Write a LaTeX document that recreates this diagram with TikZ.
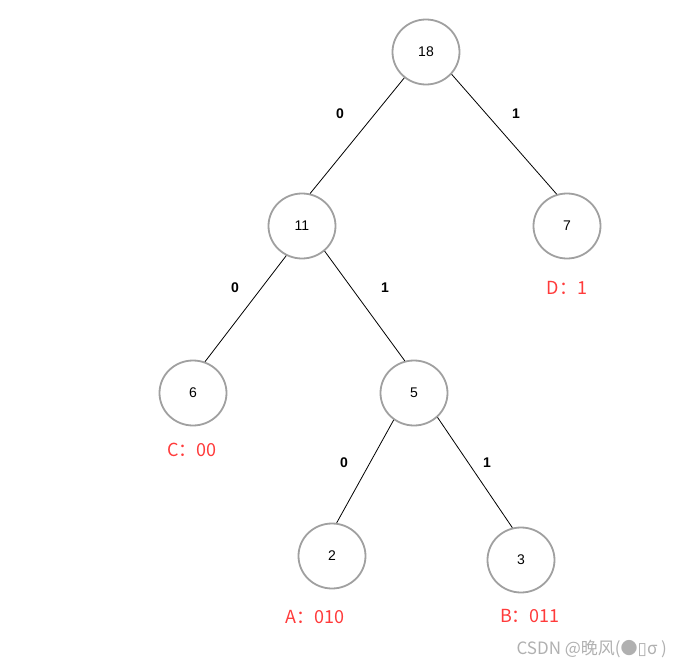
\documentclass[tikz,border=0pt]{standalone}
\usepackage{fontspec}
\setmainfont{Liberation Sans}
\newfontfamily\cjk{Noto Sans CJK SC}
\newfontfamily\djv{DejaVu Sans}
\usetikzlibrary{shapes.geometric}
\definecolor{ringgray}{HTML}{A0A0A0}
\definecolor{codered}{HTML}{FF3B3B}
\definecolor{wmgray}{HTML}{B0B0B0}
\tikzset{
  tnode/.style={ellipse, draw=ringgray, line width=1.8pt, minimum width=67pt, minimum height=65pt, inner sep=0pt, font=\fontsize{14}{14}\selectfont},
  edge/.style={draw=black, line width=0.8pt},
  bit/.style={font=\fontsize{14}{14}\selectfont\bfseries},
  code/.style={text=codered, font=\cjk\fontsize{18}{18}\selectfont},
}
\begin{document}
\begin{tikzpicture}[x=1pt,y=-1pt]
\useasboundingbox (0,0) rectangle (697,669);
\node[tnode] (n18) at (426,52) {18};
\node[tnode] (n11) at (302,226) {11};
\node[tnode] (n7) at (567,226) {7};
\node[tnode] (n6) at (193,393) {6};
\node[tnode] (n5) at (414,393) {5};
\node[tnode] (n2) at (332,556) {2};
\node[tnode] (n3) at (521,560) {3};
\draw[edge] (n18.230) -- (n11.76);
\draw[edge] (n18.319) -- (n7.108);
\draw[edge] (n11.242) -- (n6.69);
\draw[edge] (n11.312) -- (n5.106);
\draw[edge] (n5.233) -- (n2.82);
\draw[edge] (n5.314) -- (n3.105);
\node[bit] (b1) at (340,114) {0};
\node[bit] (b2) at (516,114) {1};
\node[bit] (b3) at (235,288) {0};
\node[bit] (b4) at (385,288) {1};
\node[bit] (b5) at (344,463) {0};
\node[bit] (b6) at (487,463) {1};
\node[code] (cD) at (567,288) {D：1};
\node[code] (cC) at (192,450) {C：00};
\node[code] (cA) at (315,617) {A：010};
\node[code] (cB) at (530,616) {B：011};
\node[text=wmgray, font=\cjk\fontsize{17}{17}\selectfont, anchor=west] (wm) at (513,649) {CSDN @晚风(●{\djv ▯}σ )};
\end{tikzpicture}
\end{document}
